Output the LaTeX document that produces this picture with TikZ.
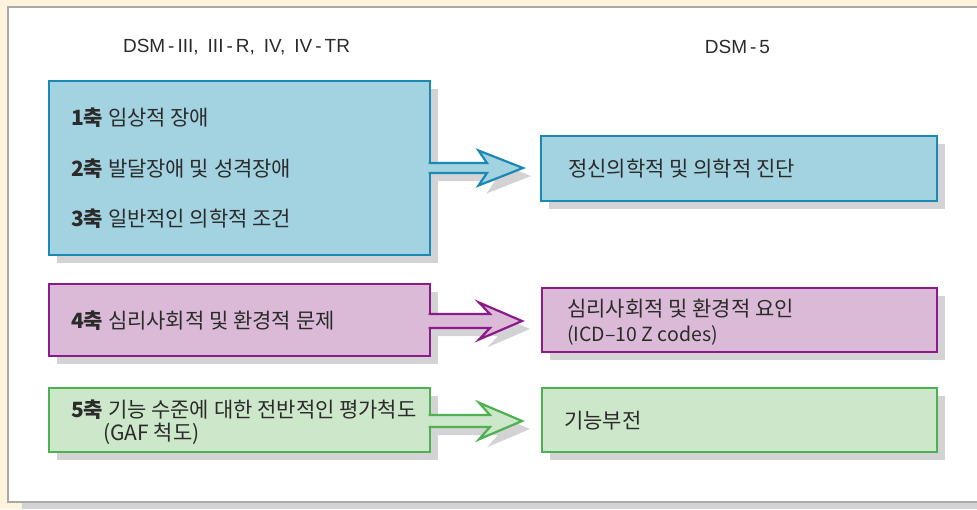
\documentclass[tikz,border=0pt]{standalone}
\usepackage{fontspec}
\setmainfont{Noto Sans CJK KR}
\newfontfamily\latinsans{Liberation Sans}
\usetikzlibrary{calc,shadows}
\definecolor{cream}{HTML}{FFF3DE}
\definecolor{panelline}{HTML}{A9A9A9}
\definecolor{shadowgray}{HTML}{D3D3D5}
\definecolor{bluefill}{HTML}{A3D3E1}
\definecolor{blueline}{HTML}{1A89B3}
\definecolor{purplefill}{HTML}{DBBAD7}
\definecolor{purpleline}{HTML}{8C1A8A}
\definecolor{greenfill}{HTML}{CDE7CA}
\definecolor{greenline}{HTML}{4DB151}
\definecolor{txtcol}{HTML}{2B2B2B}
% block arrow path: #1 node, #2 dx, #3 dy, #4 shaft half, #5 head half, #6 notch, #7 back, #8 tip
\newcommand\arrpath[8]{($(#1.east)+(-1.3+#2,-#4+#3)$) -- ($(#1.east)+(#6+#2,-#4+#3)$) -- ($(#1.east)+(#7+#2,-#5+#3)$) -- ($(#1.east)+(#8+#2,#3)$) -- ($(#1.east)+(#7+#2,#5+#3)$) -- ($(#1.east)+(#6+#2,#4+#3)$) -- ($(#1.east)+(-1.3+#2,#4+#3)$)}
\newcommand\hy{\hspace{3pt}-\hspace{3pt}}
\newcommand\csp{\hspace{9pt}}
\tikzset{
  box/.style={rectangle, line width=2.4pt, anchor=north west, inner sep=0pt, outer sep=0pt,
    drop shadow={shadow xshift=8pt, shadow yshift=-8pt, fill=shadowgray, opacity=1}},
  bluebox/.style={box, fill=bluefill, draw=blueline},
  purplebox/.style={box, fill=purplefill, draw=purpleline},
  greenbox/.style={box, fill=greenfill, draw=greenline},
  arrowstroke/.style={line width=2.2pt, line join=miter, miter limit=10},
  label/.style={anchor=west, inner sep=0pt, text=txtcol, font=\fontsize{21}{24}\selectfont},
  smalllabel/.style={label, font=\fontsize{19.5}{23}\selectfont},
  head/.style={anchor=center, inner sep=0pt, text=txtcol, font=\latinsans\fontsize{19}{22}\selectfont},
}
\begin{document}
\begin{tikzpicture}[x=1pt,y=-1pt]
\useasboundingbox (0,0) rectangle (977,509);
\fill[cream] (0,0) rectangle (977,509);
\fill[shadowgray] (22,502) rectangle (977,509);
\filldraw[fill=white, draw=panelline, line width=1.3pt] (8,7) rectangle (995,502);

\node[head] (h1) at (236.5,47) {DSM\hy III,\csp III\hy R,\csp IV,\csp IV\hy TR};
\node[head] (h2) at (737.5,47) {DSM\hy 5};

% boxes
\node[bluebox, minimum width=381, minimum height=174] (b1) at (49,81) {};
\node[bluebox, minimum width=396, minimum height=65] (r1) at (541,136) {};
\node[purplebox, minimum width=381, minimum height=72] (b2) at (49,284) {};
\node[purplebox, minimum width=395, minimum height=64] (r2) at (542,288) {};
\node[greenbox, minimum width=381, minimum height=64] (b3) at (49,388) {};
\node[greenbox, minimum width=395, minimum height=64] (r3) at (542,388) {};

% arrows: shadows then bodies
\fill[shadowgray] \arrpath{b1}{8}{8}{5}{17.5}{57}{48.5}{93};
\filldraw[arrowstroke, fill=bluefill, draw=blueline] \arrpath{b1}{0}{0}{5}{17.5}{57}{48.5}{93};
\fill[shadowgray] \arrpath{b2}{8}{9}{7}{18.5}{60}{49}{92};
\filldraw[arrowstroke, fill=purplefill, draw=purpleline] \arrpath{b2}{0}{1}{7}{18.5}{60}{49}{92};
\fill[shadowgray] \arrpath{b3}{8}{9}{6}{18.3}{60}{49}{92};
\filldraw[arrowstroke, fill=greenfill, draw=greenline] \arrpath{b3}{0}{1}{6}{18.3}{60}{49}{92};

% texts
\node[label] (t1) at (71,118) {\textbf{1축} 임상적 장애};
\node[label] (t2) at (71,168.5) {\textbf{2축} 발달장애 및 성격장애};
\node[label] (t3) at (71,219) {\textbf{3축} 일반적인 의학적 조건};
\node[label] (t4) at (71,321) {\textbf{4축} 심리사회적 및 환경적 문제};
\node[label] (t5) at (71,410) {\textbf{5축} 기능 수준에 대한 전반적인 평가척도};
\node[label] (t6) at (103,434) {(GAF 척도)};

\node[label] (s1) at (568,169) {정신의학적 및 의학적 진단};
\node[label] (s2) at (567,309) {심리사회적 및 환경적 요인};
\node[smalllabel] (s3) at (567,335) {(ICD–10 Z codes)};
\node[label] (s4) at (564,421) {기능부전};
\end{tikzpicture}
\end{document}
